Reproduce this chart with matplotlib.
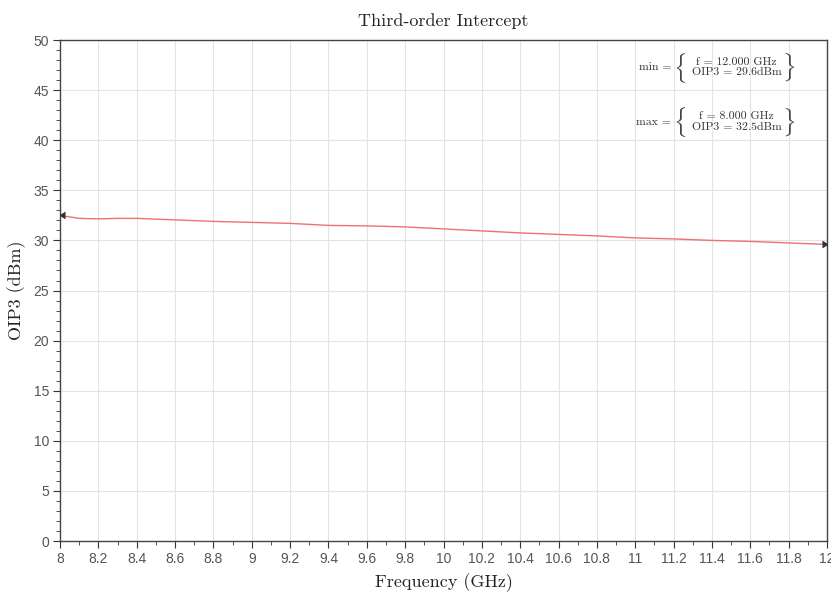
import numpy as np
import matplotlib.pyplot as plt
from matplotlib.ticker import MultipleLocator

# OIP3 vs frequency
freq = [8.0, 8.1, 8.2, 8.3, 8.4, 8.6, 8.8, 9.0, 9.2, 9.4, 9.6, 9.8, 10.0,
        10.2, 10.4, 10.6, 10.8, 11.0, 11.2, 11.4, 11.6, 11.8, 12.0]
oip3 = [32.5, 32.2, 32.15, 32.2, 32.2, 32.05, 31.9, 31.8, 31.7, 31.5, 31.45, 31.35, 31.15,
        30.95, 30.75, 30.6, 30.45, 30.25, 30.15, 30.0, 29.9, 29.75, 29.6]
xticks = [8, 8.2, 8.4, 8.6, 8.8, 9, 9.2, 9.4, 9.6, 9.8, 10, 10.2, 10.4, 10.6,
          10.8, 11, 11.2, 11.4, 11.6, 11.8, 12]
xticklabels = ['8', '8.2', '8.4', '8.6', '8.8', '9', '9.2', '9.4', '9.6', '9.8', '10',
               '10.2', '10.4', '10.6', '10.8', '11', '11.2', '11.4', '11.6', '11.8', '12']
yticks = [0, 5, 10, 15, 20, 25, 30, 35, 40, 45, 50]

serif = 'cmr10'   # computer modern, shipped with matplotlib
plt.rc('font', family='Liberation Sans')
plt.rc('mathtext', fontset='cm')

fig = plt.figure(figsize=(8.31, 5.92), dpi=100)
ax = fig.add_axes([0.0722, 0.0861, 0.923, 0.8463])

ax.plot(freq, oip3, color='#f07070', lw=1.0, zorder=3)
# datatip markers at the ends
ax.plot(freq[0], oip3[0], marker=4, color='#333333', ms=5, clip_on=False, zorder=4)
ax.plot(freq[-1], oip3[-1], marker=5, color='#333333', ms=5, clip_on=False, zorder=4)

ax.set_xlim(8, 12)
ax.set_ylim(0, 50)
ax.set_xticks(xticks)
ax.set_xticklabels(xticklabels)
ax.set_yticks(yticks)
ax.xaxis.set_minor_locator(MultipleLocator(0.1))
ax.yaxis.set_minor_locator(MultipleLocator(1))
ax.grid(True, which='major', color='#e3e3e3', lw=0.8)
ax.set_axisbelow(True)
ax.tick_params(which='major', direction='out', length=5, color='#333333',
               labelcolor='#555555', labelsize=10)
ax.tick_params(which='minor', direction='out', length=3, color='#333333')
ax.tick_params(axis='x', pad=3)
ax.tick_params(axis='y', pad=3)
for sp in ax.spines.values():
    sp.set_color('#444444')
    sp.set_linewidth(1.0)

ax.set_title('Third-order Intercept', family=serif, fontsize=13, pad=10, color='#222222')
ax.set_xlabel('Frequency (GHz)', family=serif, fontsize=13, labelpad=5, color='#222222')
ax.set_ylabel('OIP3 (dBm)', family=serif, fontsize=13, labelpad=5, color='#222222')

# min / max datatip boxes
def tip(y, name, f, p):
    ax.text(0.797, y, name + ' =', transform=ax.transAxes, family=serif,
            fontsize=8.5, ha='right', va='center', color='#333333')
    ax.text(0.808, y, r'$\{$', transform=ax.transAxes, fontsize=17,
            ha='center', va='center', color='#444444')
    ax.text(0.882, y + 0.011, 'f = %s GHz' % f, transform=ax.transAxes, family=serif,
            fontsize=8.5, ha='center', va='center', color='#333333')
    ax.text(0.882, y - 0.010, 'OIP3 = %sdBm' % p, transform=ax.transAxes, family=serif,
            fontsize=8.5, ha='center', va='center', color='#333333')
    ax.text(0.950, y, r'$\}$', transform=ax.transAxes, fontsize=17,
            ha='center', va='center', color='#444444')

tip(0.945, 'min', '12.000', '29.6')
tip(0.836, 'max', '8.000', '32.5')

plt.savefig('out.png', dpi=100)
